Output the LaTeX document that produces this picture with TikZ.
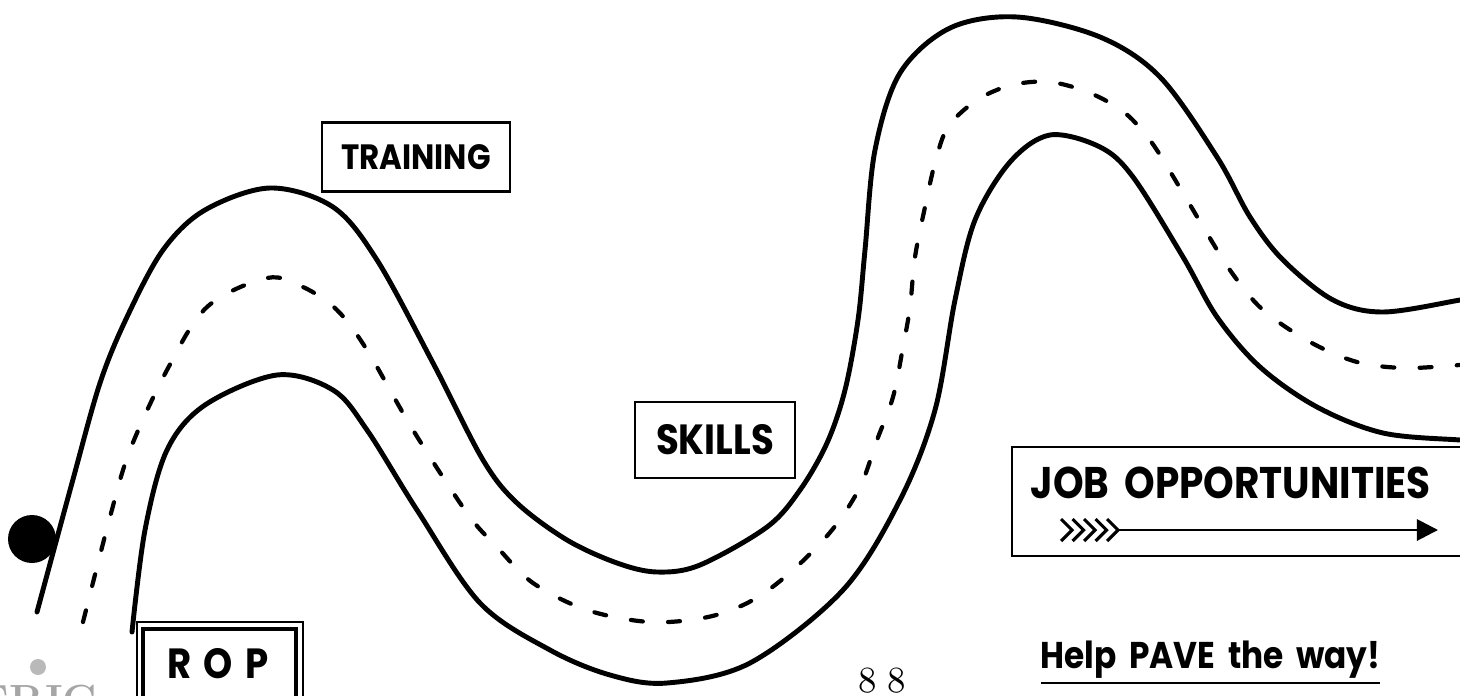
\documentclass[tikz,border=0pt]{standalone}
\usepackage{fontspec}
\newfontfamily\signfont{Poppins}[FakeStretch=0.88, WordSpace=1.8]
\usetikzlibrary{arrows.meta}

\begin{document}
\begin{tikzpicture}[x=0.1mm, y=-0.1mm,
    road/.style={line width=1.4pt, line cap=round, line join=round},
    centreline/.style={line width=1.2pt, line cap=round, dash pattern=on 3.4pt off 7.2pt},
    sign/.style={draw, line width=0.8pt, inner sep=0pt, font=\signfont\bfseries}]
    \path[use as bounding box] (0,0) rectangle (1460,695);
    \clip (0,0) rectangle (1460,695);

    % Road edges
    \draw[road] plot[smooth, tension=0.55] coordinates {
        (37,612) (72,483) (100,383) (127,317) (163,250) (205,210) (270,188) (333,207)
        (377,260) (433,363) (483,460) (517,503) (567,540) (617,563) (657,572) (700,565)
        (767,527) (800,490) (827,443) (845,390) (858,320) (865,250) (875,150) (900,73)
        (950,28) (1017,17) (1100,37) (1160,77) (1217,157) (1250,217) (1283,260)
        (1333,300) (1383,312) (1460,300) (1480,296)};
    \draw[road] plot[smooth, tension=0.55] coordinates {
        (132,632) (145,530) (167,450) (205,405) (277,375) (333,390) (367,430)
        (417,510) (480,603) (550,650) (610,675) (667,683) (750,663) (843,590) (900,500)
        (935,410) (955,300) (975,220) (1010,162) (1050,135) (1100,147) (1133,177)
        (1183,257) (1217,317) (1260,367) (1317,407) (1383,433) (1460,440) (1480,441)};

    % Centre line
    \draw[centreline] plot[smooth, tension=0.55] coordinates {
        (83,622) (110,517) (130,450) (167,370) (207,307) (267,278) (303,287) (337,310)
        (367,350) (413,430) (467,513) (497,547) (533,583) (587,610) (650,622) (708,617)
        (753,600) (793,570) (832,530) (860,487) (877,440) (893,397) (903,347) (910,307)
        (915,257) (925,207) (935,163) (948,127) (977,100) (1012,85) (1050,82) (1090,93)
        (1125,113) (1152,143) (1180,188) (1205,230) (1232,273) (1263,310) (1310,342)
        (1357,362) (1405,368) (1460,365) (1480,364)};

    % Ball at the start of the road
    \fill (32,539) circle[radius=2.4mm];

    % Signs along the road
    \node[sign, minimum width=18.8mm, minimum height=6.9mm] (training) at (416,157)
        {\fontsize{10}{12}\selectfont TRAINING};
    \node[sign, minimum width=16mm, minimum height=7.6mm] (skills) at (715,440)
        {\fontsize{12}{14}\selectfont SKILLS};

    % ROP sign, cut off at the bottom
    \draw[line width=0.6pt] (137,622) rectangle (303,720);
    \draw[line width=1pt] (143,629) rectangle (296,720);
    \node[anchor=base, font=\signfont\bfseries\fontsize{12}{14}\selectfont] (rop) at (218,678)
        {R\hspace{0.3em}O\hspace{0.3em}P};

    % Job opportunities sign
    \draw[line width=0.8pt] (1480,447) -- (1012,447) -- (1012,556) -- (1480,556);
    \node[anchor=base west, inner sep=0pt, font=\signfont\bfseries\fontsize{12.6}{15}\selectfont] (jobs) at (1030,498)
        {JOB OPPORTUNITIES};
    \coordinate (tail) at (1118,530);
    \coordinate (tip) at (1438,530);
    \foreach \i in {0,...,4}
        \draw[line width=0.9pt] (1061+11.5*\i,519) -- (1072+11.5*\i,530) -- (1061+11.5*\i,541);
    \draw[line width=0.8pt, -{Triangle[length=6pt, width=6pt]}] (tail) -- (tip);

    % Slogan and page number
    \node[anchor=base west, inner sep=0pt, font=\signfont\bfseries\fontsize{10.6}{13}\selectfont] (slogan) at (1040,668)
        {\underline{Help PAVE the way!}};
    \node[anchor=base, font=\fontsize{10.5}{12}\selectfont] (page) at (882,692) {8\kern3pt 8};

    % Archive mark in the corner
    \fill[gray!55] (38,667) circle[radius=0.8mm];
    \node[anchor=north west, inner sep=0pt, text=gray!70, font=\bfseries\fontsize{12}{14}\selectfont] (eric) at (-22,684) {ERIC};
\end{tikzpicture}
\end{document}
